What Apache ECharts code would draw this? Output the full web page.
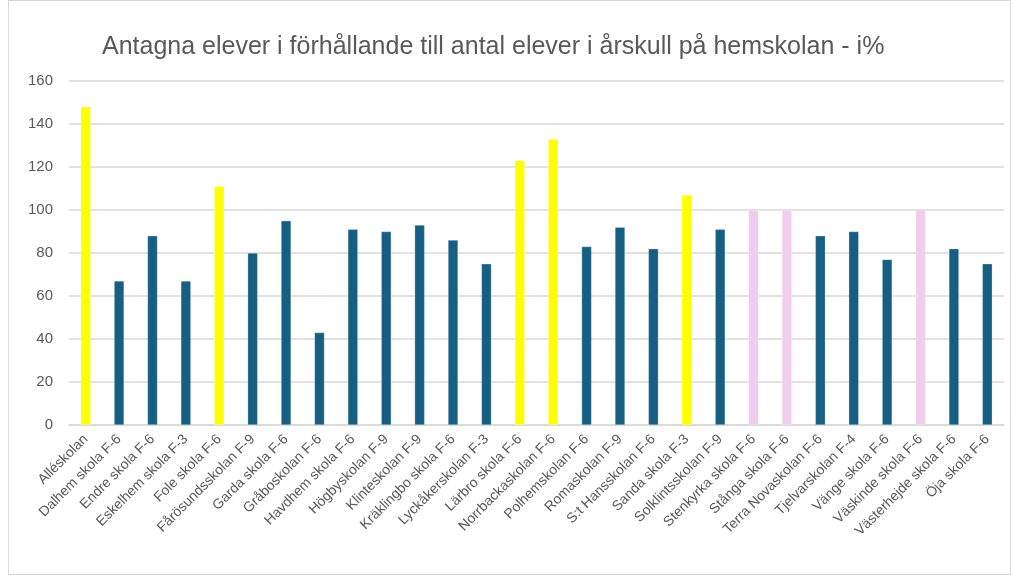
<!DOCTYPE html>
<html>
<head>
<meta charset="utf-8">
<script src="https://cdn.jsdelivr.net/npm/echarts@6/dist/echarts.min.js"></script>
<style>
  html, body { margin: 0; padding: 0; background: #fff; }
  #chart { position: absolute; left: 8px; top: 0; width: 1003px; height: 575px; border: 1px solid #d9d9d9; box-sizing: border-box; }
</style>
</head>
<body>
<div id="chart"></div>
<script>
const schools = ['Alléskolan', 'Dalhem skola F-6', 'Endre skola F-6', 'Eskelhem skola F-3', 'Fole skola F-6',
  'Fårösundsskolan F-9', 'Garda skola F-6', 'Gråboskolan F-6', 'Havdhem skola F-6', 'Högbyskolan F-9',
  'Klinteskolan F-9', 'Kräklingbo skola F-6', 'Lyckåkerskolan F-3', 'Lärbro skola F-6', 'Norrbackaskolan F-6',
  'Polhemskolan F-6', 'Romaskolan F-9', 'S:t Hansskolan F-6', 'Sanda skola F-3', 'Solklintsskolan F-9',
  'Stenkyrka skola F-6', 'Stånga skola F-6', 'Terra Novaskolan F-6', 'Tjelvarskolan F-4', 'Vänge skola F-6',
  'Väskinde skola F-6', 'Västerhejde skola F-6', 'Öja skola F-6'];
const percent = [148, 67, 88, 67, 111, 80, 95, 43, 91, 90, 93, 86, 75, 123, 133,
  83, 92, 82, 107, 91, 100, 100, 88, 90, 77, 100, 82, 75];

const barColor = (v) => v > 100 ? '#ffff00' : (v === 100 ? '#f0cdec' : '#175f82');

const getOption = () => {
    return {
        animation: false,
        title: {
            text: 'Antagna elever i förhållande till antal elever i årskull på hemskolan - i%',
            left: 88,
            top: 29,
            textStyle: { color: '#595959', fontSize: 25, fontWeight: 'normal', fontFamily: 'Liberation Sans' }
        },
        grid: { left: 60, right: 6, top: 80, bottom: 149 },
        xAxis: {
            type: 'category',
            data: schools,
            axisTick: { show: false },
            axisLine: { lineStyle: { color: '#d9d9d9', width: 1.5 } },
            axisLabel: { rotate: 45, interval: 0, color: '#595959', fontSize: 14, fontFamily: 'Liberation Sans', margin: 12 }
        },
        yAxis: {
            type: 'value',
            min: 0,
            max: 160,
            interval: 20,
            axisLine: { show: false },
            axisTick: { show: false },
            axisLabel: { color: '#595959', fontSize: 15, fontFamily: 'Liberation Sans', margin: 16 },
            splitLine: { lineStyle: { color: '#d9d9d9', width: 1.5 } }
        },
        series: [
            {
                type: 'bar',
                barWidth: 10,
                data: percent.map(v => ({
                    value: v,
                    itemStyle: { color: barColor(v), borderColor: 'rgba(255,255,255,0.5)', borderWidth: 0.5 }
                }))
            }
        ]
    };
};

window.addEventListener('load', () => {
    const chart = echarts.init(document.getElementById('chart'));
    chart.setOption(getOption());
});
</script>
</body>
</html>
